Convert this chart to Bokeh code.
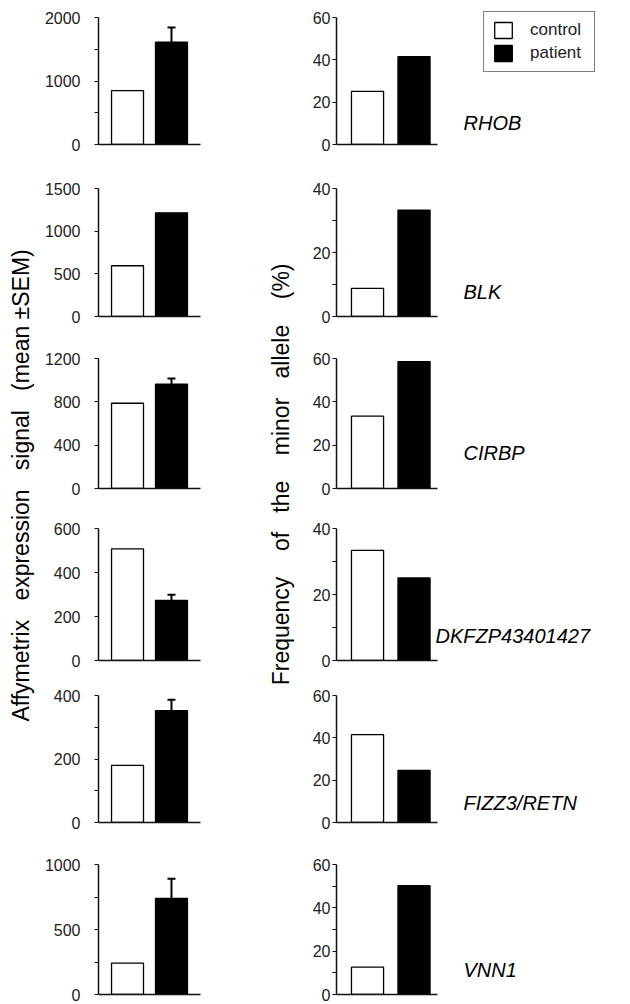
import math
from bokeh.plotting import figure
from bokeh.models import (Range1d, FixedTicker, ColumnDataSource, Whisker, TeeHead,
                          Label, Legend, LegendItem)
from bokeh.layouts import row, column
from bokeh.embed import file_html
from bokeh.resources import INLINE

# ---------------- data ----------------
genes = ["RHOB", "BLK", "CIRBP", "DKFZP43401427", "FIZZ3/RETN", "VNN1"]
groups = ["control", "patient"]

expr_control = [850, 595, 787, 507, 180, 242]
expr_patient = [1610, 1215, 964, 273, 352, 740]
expr_patient_sem = [233, 0, 52, 26, 35, 150]
expr_max = [2000, 1500, 1200, 600, 400, 1000]
expr_ticks = [[0, 1000, 2000], [0, 500, 1000, 1500], [0, 400, 800, 1200],
              [0, 200, 400, 600], [0, 200, 400], [0, 500, 1000]]
expr_minor = [[500, 1500], [], [], [], [100, 300], [250, 750]]

freq_control = [25.1, 8.8, 33.4, 33.4, 41.5, 12.6]
freq_patient = [41.5, 33.2, 58.6, 25.0, 24.6, 50.2]
freq_max = [60, 40, 60, 40, 60, 60]
freq_ticks = [[0, 20, 40, 60], [0, 20, 40], [0, 20, 40, 60],
              [0, 20, 40], [0, 20, 40, 60], [0, 20, 40, 60]]
freq_minor = [[], [10, 30], [], [10, 30], [], [10, 30, 50]]

NB = "\u00a0"
left_title = (NB * 3).join(["Affymetrix", "expression", "signal", "(mean" + NB + "\u00b1SEM)"])
_rw = ["Frequency", "of", "the", "minor", "allele", "(%)"]
right_title = _rw[0]
for k, w in enumerate(_rw[1:]):
    right_title += NB * (4 if k % 2 == 0 else 3) + w

# ---------------- layout ----------------
FONT = "Liberation Sans"
TOTAL_H = 1004
# (border_top, frame_height, border_bottom) per row
ROWS = [(17, 127, 22), (22, 128, 21), (21, 130, 20), (20, 132, 17), (18, 127, 21), (21, 130, 10)]
LABEL_DX = [127, 127, 127, 99, 127, 127]
LABEL_DY = [22, 25, 36, 25, 20, 25]


def panel(width, bl, fw_axis, geom, ymax, ticks, minor, xr, bar_w, standoff,
          ctrl, pat, sem=None, extend=False):
    bt, fh, bb = geom
    px_per_unit = fw_axis / (xr[1] - xr[0])
    if extend:
        # frame reaches the figure's right and top edges; axes are bounded
        x_end = xr[0] + (width - bl) / px_per_unit
        y_end = ymax * (fh + bt) / fh
        br, btop = 0, 0
    else:
        x_end = xr[1]
        y_end = ymax
        br, btop = width - bl - fw_axis, bt
    p = figure(width=width, height=bt + fh + bb, output_backend="svg",
               toolbar_location=None, x_range=Range1d(xr[0], x_end),
               y_range=Range1d(0, y_end),
               min_border_left=bl, min_border_right=br,
               min_border_top=btop, min_border_bottom=bb)
    p.outline_line_color = None
    p.grid.visible = False
    p.background_fill_color = "white"
    p.border_fill_color = "white"

    ya = p.yaxis[0]
    ya.bounds = (0, ymax)
    ya.ticker = FixedTicker(ticks=ticks, minor_ticks=minor)
    ya.major_label_text_font = FONT
    ya.major_label_text_font_size = "16px"
    ya.major_label_text_color = "#222222"
    ya.major_label_standoff = standoff
    ya.major_tick_in = 0
    ya.major_tick_out = 4
    ya.minor_tick_in = 0
    ya.minor_tick_out = 4
    ya.axis_line_width = 1.5
    ya.major_tick_line_width = 1.2
    ya.minor_tick_line_width = 1.2
    ya.axis_line_color = "#111111"
    ya.major_tick_line_color = "#111111"
    ya.minor_tick_line_color = "#111111"

    xa = p.xaxis[0]
    xa.bounds = (xr[0], xr[1])
    xa.ticker = FixedTicker(ticks=[])
    xa.major_label_text_font_size = "0px"
    xa.major_tick_out = 0
    xa.major_tick_in = 0
    xa.minor_tick_out = 0
    xa.minor_tick_in = 0
    xa.axis_line_width = 1.5
    xa.axis_line_color = "#111111"

    xs = list(range(len(groups)))
    r_c = p.vbar(x=[xs[0]], top=[ctrl], width=bar_w, bottom=0,
                 fill_color="white", line_color="black", line_width=1.3)
    r_p = p.vbar(x=[xs[1]], top=[pat], width=bar_w, bottom=0,
                 fill_color="black", line_color="black", line_width=1.3)
    if sem is not None and sem > 0:
        src = ColumnDataSource(dict(x=[xs[1]], lower=[pat], upper=[pat + sem]))
        w = Whisker(source=src, base="x", lower="lower", upper="upper",
                    dimension="height", line_width=2, line_color="black",
                    upper_head=TeeHead(size=8, line_width=2, line_color="black"),
                    lower_head=None)
        p.add_layout(w)
    return p, r_c, r_p


def title_fig(width, text, xfrac, yfrac):
    t = figure(width=width, height=TOTAL_H, output_backend="svg", toolbar_location=None,
               x_range=Range1d(0, 1), y_range=Range1d(0, 1),
               x_axis_location=None, y_axis_location=None,
               min_border=0)
    t.outline_line_color = None
    t.grid.visible = False
    t.add_layout(Label(x=xfrac, y=yfrac, text=text, angle=math.pi / 2,
                       text_align="center", text_baseline="middle",
                       text_font=FONT, text_font_size="23px", text_color="black"))
    return t


left_figs = []
right_figs = []
for i in range(len(genes)):
    lp, _, _ = panel(228, 58, 102, ROWS[i], expr_max[i], expr_ticks[i], expr_minor[i],
                     (-0.66, 1.66), 0.727, 14,
                     expr_control[i], expr_patient[i], expr_patient_sem[i])
    rp, rc, rpat = panel(334, 40, 101, ROWS[i], freq_max[i], freq_ticks[i], freq_minor[i],
                         (-0.667, 1.505), 0.69, 2,
                         freq_control[i], freq_patient[i], extend=True)
    rp.add_layout(Label(x=LABEL_DX[i], y=LABEL_DY[i], x_units="screen", y_units="screen",
                        text=genes[i], text_font=FONT, text_font_style="italic",
                        text_font_size="20px", text_baseline="middle", text_align="left",
                        text_color="black"))
    if i == 0:
        legend = Legend(items=[LegendItem(label=groups[0], renderers=[rc]),
                               LegendItem(label=groups[1], renderers=[rpat])],
                        location=(147, 72), orientation="vertical", margin=0,
                        padding=8, spacing=3, glyph_width=22, glyph_height=20,
                        label_standoff=16, label_height=20, label_width=56,
                        label_text_font=FONT, label_text_font_size="17px",
                        label_text_color="#222222",
                        border_line_color="black", border_line_width=1.5,
                        background_fill_color="white", background_fill_alpha=1)
        rp.add_layout(legend)
    left_figs.append(lp)
    right_figs.append(rp)

layout = row(title_fig(40, left_title, 0.51, 0.517), column(*left_figs),
             title_fig(28, right_title, 0.43, 0.528), column(*right_figs))

with open("out.html", "w") as f:
    f.write(file_html(layout, INLINE))
